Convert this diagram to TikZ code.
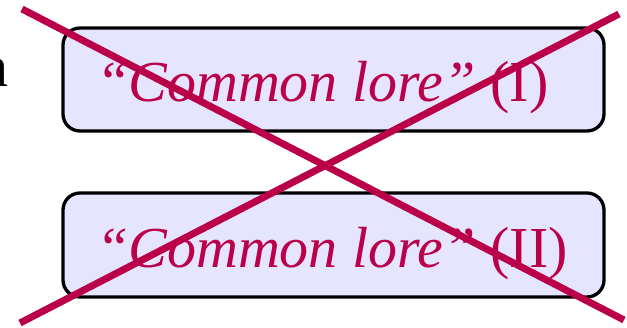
\documentclass[tikz,border=0pt]{standalone}
\usepackage{fontspec}
\setmainfont{Liberation Serif}
\definecolor{crossred}{HTML}{BA0049}
\definecolor{boxfill}{HTML}{E5E5FF}
\tikzset{
  lorebox/.style={draw=black, line width=3.3pt, fill=boxfill, rounded corners=17pt},
  loretext/.style={anchor=base west, inner sep=0pt, text=crossred, font=\fontsize{58}{60}\selectfont},
  outtext/.style={anchor=base east, inner sep=0pt, text=black, font=\fontsize{58}{60}\selectfont},
  crossline/.style={draw=crossred, line width=7pt}
}
\begin{document}
\begin{tikzpicture}[x=1pt,y=-1pt]
\useasboundingbox (0,0) rectangle (627,327);
\node[outtext] (n) at (9,86) {n};
\draw[lorebox] (63,28) rectangle (604,131);
\draw[lorebox] (63,193) rectangle (604,297);
\node[loretext] (t1) at (96,101) {\textit{“Common lore”} (I)};
\node[loretext] (t2) at (96,267) {\textit{“Common lore”} (II)};
\coordinate (c1) at (22,9);
\coordinate (c2) at (624,320);
\coordinate (c3) at (619,14);
\coordinate (c4) at (20,323);
\draw[crossline] (c1) -- (c2);
\draw[crossline] (c3) -- (c4);
\end{tikzpicture}
\end{document}
